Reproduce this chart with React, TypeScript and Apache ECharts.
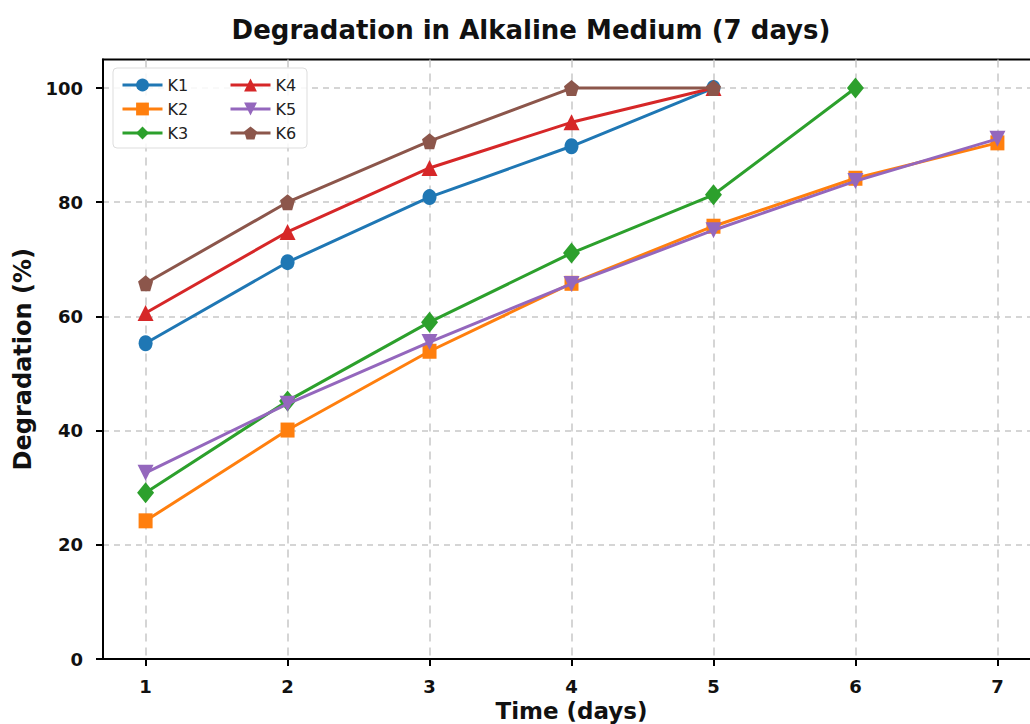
import React, { useEffect, useRef } from "react";
import * as echarts from "echarts";

const days = [1, 2, 3, 4, 5, 6, 7];
const seriesNames = ["K1", "K2", "K3", "K4", "K5", "K6"];
const k1 = [55.3, 69.5, 80.9, 89.8, 100];
const k2 = [24.2, 40.1, 53.9, 65.8, 75.8, 84.2, 90.4];
const k3 = [29.1, 45.2, 59.0, 71.1, 81.3, 100];
const k4 = [60.6, 74.8, 86.0, 94.0, 100];
const k5 = [32.6, 44.7, 55.5, 65.7, 75.1, 83.7, 91.1];
const k6 = [65.8, 80.0, 90.7, 100, 100];
const yTicks = [0, 20, 40, 60, 80, 100];
const colors = ["#1f77b4", "#ff7f0e", "#2ca02c", "#d62728", "#9467bd", "#8c564b"];

const pentagon = "path://M0,-1 L0.951,-0.309 L0.588,0.809 L-0.588,0.809 L-0.951,-0.309 Z";
const symbols = ["circle", "rect", "diamond", "triangle", "triangle", pentagon];
const rotates = [0, 0, 0, 0, 180, 0];
const sizes: any[] = [[14, 16], [14, 15], [17, 21], [16, 16], [16, 16], [15, 16]];

export default function App() {
  const ref = useRef<HTMLDivElement>(null);
  useEffect(() => {
    const chart = echarts.init(ref.current!, null, { renderer: "svg" });
    const allData = [k1, k2, k3, k4, k5, k6];
    const font = "DejaVu Sans";
    const series = allData.map((d, i) => ({
      name: seriesNames[i],
      type: "line",
      data: d.map((v, j) => [days[j], v]),
      symbol: symbols[i],
      symbolRotate: rotates[i],
      symbolSize: sizes[i],
      itemStyle: { color: colors[i] },
      lineStyle: { color: colors[i], width: 3 },
      z: 3 + i,
    }));
    const legendBase = {
      orient: "vertical",
      top: 72,
      itemGap: 8,
      itemWidth: 40,
      itemHeight: 16,
      lineStyle: { width: 3 },
      textStyle: { fontFamily: font, fontSize: 16, color: "#222" },
    };
    chart.setOption({
      animation: false,
      backgroundColor: "#fff",
      title: {
        text: "Degradation in Alkaline Medium (7 days)",
        left: 526,
        top: 12,
        textAlign: "center",
        textStyle: { fontFamily: font, fontSize: 26, fontWeight: "bold", color: "#111" },
      },
      graphic: [
        {
          type: "rect",
          shape: { x: 113, y: 68, width: 194, height: 80, r: 4 },
          style: { fill: "rgba(255,255,255,0.85)", stroke: "#ddd", lineWidth: 1 },
          z: 10,
        },
      ],
      legend: [
        { ...legendBase, left: 116, data: ["K1", "K2", "K3"], z: 11 },
        { ...legendBase, left: 224, data: ["K4", "K5", "K6"], z: 11 },
      ],
      grid: {
        left: 103,
        top: 59.5,
        width: 937,
        height: 599.5,
        outerBoundsMode: "none",
        containLabel: false,
        show: true,
        borderColor: "#000",
        borderWidth: 2,
        backgroundColor: "transparent",
      },
      xAxis: {
        type: "value",
        min: 0.7,
        max: 7.3,
        name: "Time (days)",
        nameLocation: "middle",
        nameGap: 34,
        nameTextStyle: { fontFamily: font, fontSize: 23, fontWeight: "bold", color: "#111" },
        axisLine: { show: true, onZero: false, lineStyle: { color: "#000", width: 2 } },
        axisTick: { show: true, customValues: days, length: 7, lineStyle: { color: "#000", width: 2 } },
        axisLabel: {
          customValues: days,
          margin: 18,
          fontFamily: font,
          fontSize: 18,
          fontWeight: "bold",
          color: "#111",
        },
        splitLine: { show: true, lineStyle: { color: "#c8c8c8", width: 1.5, type: [8, 6] } },
      },
      yAxis: {
        type: "value",
        min: 0,
        max: 105,
        name: "Degradation (%)",
        nameLocation: "middle",
        nameGap: 66,
        nameTextStyle: { fontFamily: font, fontSize: 24, fontWeight: "bold", color: "#111" },
        axisLine: { show: true, lineStyle: { color: "#000", width: 2 } },
        axisTick: { show: true, customValues: yTicks, length: 7, lineStyle: { color: "#000", width: 2 } },
        axisLabel: {
          customValues: yTicks,
          margin: 20,
          fontFamily: font,
          fontSize: 18,
          fontWeight: "bold",
          color: "#111",
        },
        splitLine: { show: true, lineStyle: { color: "#c8c8c8", width: 1.5, type: [6, 5] } },
      },
      series,
    });
    return () => chart.dispose();
  }, []);
  return (
    <div
      style={{ position: "fixed", left: 0, top: 0, width: 1030, height: 724, overflow: "hidden", background: "#fff" }}
    >
      <div ref={ref} style={{ width: 1050, height: 724 }} />
    </div>
  );
}
